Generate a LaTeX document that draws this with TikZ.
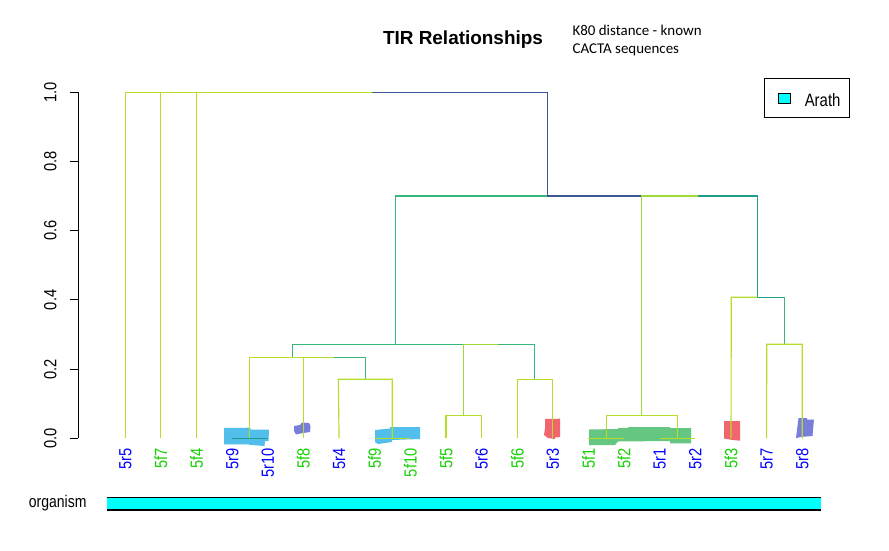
\documentclass[tikz,border=0pt]{standalone}
\usepackage{fontspec}
\setmainfont{Liberation Sans}
\newfontfamily\carl{Carlito}
\definecolor{vYG}{HTML}{B5DE2B}
\definecolor{vLG}{HTML}{A0DA39}
\definecolor{vG}{HTML}{35B779}
\definecolor{vT}{HTML}{1F9E89}
\definecolor{vB}{HTML}{3B5A93}
\definecolor{lb}{RGB}{0,0,255}
\definecolor{lg}{RGB}{20,210,0}
\definecolor{blobblue}{RGB}{64,183,235}
\definecolor{blobpurple}{RGB}{108,112,216}
\definecolor{blobred}{RGB}{240,85,95}
\definecolor{blobgreen}{RGB}{85,192,116}
\definecolor{orgcyan}{RGB}{0,255,255}
\newcommand{\tallx}[1]{\scalebox{1}[1.2]{#1}}
\begin{document}
\begin{tikzpicture}[x=0.75pt,y=-0.75pt,
  br/.style={line width=0.85pt},
  leaflab/.style={rotate=90,anchor=east,inner sep=0pt,font=\fontsize{11}{13}\selectfont},
  axlab/.style={rotate=90,anchor=center,inner sep=0pt,font=\fontsize{11}{13}\selectfont},
  blob/.style={fill opacity=0.9,draw=none}]
\useasboundingbox (0,0) rectangle (889,550);
\fill[white] (0,0) rectangle (889,550);

% leaves and labels
\foreach \lab/\col [count=\i from 0] in {5r5/lb,5f7/lg,5f4/lg,5r9/lb,5r10/lb,5f8/lg,5r4/lb,5f9/lg,5f10/lg,5f5/lg,5r6/lb,5f6/lg,5r3/lb,5f1/lg,5f2/lg,5r1/lb,5r2/lb,5f3/lg,5r7/lb,5r8/lb}{
  \coordinate (l\i) at ({125.3+35.63*\i},438.3);
  \node[leaflab,text=\col] (t\i) at ({125.3+35.63*\i},448.3) {\tallx{\lab}};
}

% internal nodes
\coordinate (root) at (547.3,92.3);
\coordinate (rootL) at (125.3,92.3);
\coordinate (rsplit) at (371.7,92.3);
\coordinate (nA) at (547.3,196);
\coordinate (nAL) at (395.3,196);
\coordinate (nAM) at (641.3,196);
\coordinate (nAs) at (698.3,196);
\coordinate (nAR) at (757.3,196);
\coordinate (nR) at (757.3,297.3);
\coordinate (nRL) at (731.3,297.3);
\coordinate (nRR) at (784.3,297.3);
\coordinate (nRRb) at (784.3,344.3);
\coordinate (nRRl) at (766.7,344.3);
\coordinate (nRRr) at (802.3,344.3);
\coordinate (nL) at (395.3,344.3);
\coordinate (nLa) at (292.3,344.3);
\coordinate (nLb) at (463.3,344.3);
\coordinate (nLs) at (498.3,344.3);
\coordinate (nLc) at (534.3,344.3);
\coordinate (nE) at (292.3,357.3);
\coordinate (nEl) at (249.3,357.3);
\coordinate (nEs) at (334,357.3);
\coordinate (nEr) at (365.3,357.3);
\coordinate (nD) at (365.3,379.3);
\coordinate (nDl) at (338.3,379.3);
\coordinate (nDr) at (392.3,379.3);
\coordinate (nF) at (463.3,415.3);
\coordinate (nG) at (534.3,379.3);
\coordinate (nM) at (641.3,415.3);
\coordinate (nMl) at (606.3,415.3);
\coordinate (nMr) at (677.3,415.3);

% blobs
\fill[blob,blobblue] (224,428) -- (250,427.7) -- (251,429.5) -- (269,429.5) -- (268.5,441) -- (265,441) -- (264.5,446) -- (251,445) -- (248,444.3) -- (224,444.3) -- cycle;
\fill[blob,blobpurple] (294,426) -- (300,425) -- (302,422.5) -- (309,423) -- (310.5,426) -- (310,432) -- (303,433) -- (296,434.5) -- (294,431) -- cycle;
\fill[blob,blobblue] (375,430) -- (390,428.5) -- (390,427) -- (420,427) -- (420,439) -- (392,440) -- (392,442) -- (378,444) -- (375,442) -- cycle;
\fill[blob,blobred] (545,419) -- (560,418.7) -- (560,437) -- (555,437.5) -- (555,439) -- (548,438) -- (544,435) -- (545,428) -- cycle;
\fill[blob,blobgreen] (589,429.5) -- (618,429) -- (618,428) -- (628,428) -- (628,427) -- (670,427) -- (670,428) -- (691,428) -- (691,443.3) -- (670,443.3) -- (670,441) -- (618,441.5) -- (615,445) -- (589,445) -- cycle;
\fill[blob,blobred] (724,421) -- (740,421) -- (740,440.7) -- (733,440) -- (724,438.5) -- cycle;
\fill[blob,blobpurple] (798.5,418) -- (807,418) -- (807,419.5) -- (814,419.5) -- (813,430) -- (812.5,436) -- (800,437) -- (796,438.3) -- (797,430) -- cycle;

% dendrogram branches
\draw[br,vYG] (l0) -- (rootL) -- (rsplit);
\draw[br,vYG] (l1) -- (l1 |- root);
\draw[br,vYG] (l2) -- (l2 |- root);
\draw[br,vB] (rsplit) -- (root) -- (nA) -- (nAM);
\draw[br,vG] (nA) -- (nAL) -- (nL);
\draw[br,vLG] (nAM) -- (nAs);
\draw[br,vLG] (nAM) -- (nM);
\draw[br,vT] (nAs) -- (nAR) -- (nR) -- (nRR);
\draw[br,vYG] (nR) -- (nRL) -- (l17);
\draw[br,vG] (nRR) -- (nRRb);
\draw[br,vYG] (l18) -- (nRRl) -- (nRRr) -- (l19);
% left cluster
\draw[br,vG] (nLa) -- (nLb);
\draw[br,vG] (nLs) -- (nLc) -- (nG);
\draw[br,vG] (nLa) -- (nE);
\draw[br,vLG] (nLb) -- (nLs);
\draw[br,vLG] (nLb) -- (nF);
\draw[br,vYG] (nEs) -- (nEl) -- (nEl |- l3);
\draw[br,vYG] (l5 |- nE) -- (l5);
\draw[br,vG] (nEs) -- (nEr) -- (nD);
\draw[br,vYG] (l6) -- (nDl) -- (nDr) -- (nDr |- l7);
\draw[br,vYG] (l7) -- (l8);
\draw[br,vT] (l3) -- (l4);
\draw[br,vYG] (l9) -- (l9 |- nF) -- (l10 |- nF) -- (l10);
\draw[br,vYG] (l11) -- (l11 |- nG) -- (l12 |- nG) -- (l12);
\draw[br,vYG] (nMl |- l13) -- (nMl) -- (nMr) -- (nMr |- l13);
\draw[br,vYG] (l13) -- (l14);
\draw[br,vYG] (l15) -- (l16);

% y axis
\coordinate (ax0) at (78,438.3);
\coordinate (ax1) at (78,92.3);
\draw[line width=0.75pt] (ax0) -- (ax1);
\foreach \v/\lab in {0/0.0,1/0.2,2/0.4,3/0.6,4/0.8,5/1.0}{
  \draw[line width=0.75pt] (78,{438.3-69.2*\v}) -- (70,{438.3-69.2*\v});
  \node[axlab] (ay\v) at (50.3,{438.3-69.2*\v}) {\tallx{\lab}};
}

% title and notes
\node[anchor=base,inner sep=0pt,font=\fontsize{14.2}{16}\selectfont\bfseries] (title) at (463,44.3) {TIR Relationships};
\node[anchor=north west,inner sep=0pt,align=left,font=\carl\fontsize{11.2}{12.8}\selectfont] (note) at (572.3,25.3) {K80 distance - known\\CACTA sequences};

% legend
\draw[line width=0.75pt] (764.3,78) rectangle (849,117.3);
\draw[line width=0.6pt,fill=orgcyan] (778.3,93.3) rectangle (790.3,103.3);
\node[anchor=west,inner sep=0pt,font=\fontsize{11.2}{13}\selectfont] (leg) at (804.5,100) {\tallx{Arath}};

% organism bar
\fill[orgcyan] (106.7,497.3) rectangle (820.7,510);
\draw[line width=0.9pt] (106.7,497.3) -- (820.7,497.3);
\draw[line width=0.9pt] (106.7,510) -- (820.7,510);
\node[anchor=east,inner sep=0pt,font=\fontsize{10.5}{12}\selectfont] (org) at (86.7,503.3) {\tallx{organism}};
\end{tikzpicture}
\end{document}
